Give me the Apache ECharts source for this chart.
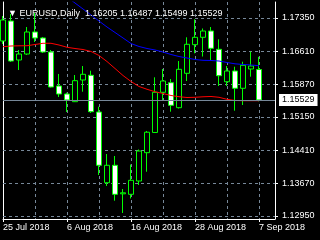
<!DOCTYPE html>
<html><head><meta charset="utf-8">
<script src="https://cdn.jsdelivr.net/npm/echarts@6/dist/echarts.min.js"></script>
<style>html,body{margin:0;padding:0;background:#000;}#c{width:320px;height:240px;}</style>
</head><body><div id="c"></div>
<script>
const symbolName = 'EURUSD,Daily';
const categories = ['25 Jul 2018','26 Jul 2018','27 Jul 2018','30 Jul 2018','31 Jul 2018','1 Aug 2018','2 Aug 2018','3 Aug 2018','6 Aug 2018','7 Aug 2018','8 Aug 2018','9 Aug 2018','10 Aug 2018','13 Aug 2018','14 Aug 2018','15 Aug 2018','16 Aug 2018','17 Aug 2018','20 Aug 2018','21 Aug 2018','22 Aug 2018','23 Aug 2018','24 Aug 2018','27 Aug 2018','28 Aug 2018','29 Aug 2018','30 Aug 2018','31 Aug 2018','3 Sep 2018','4 Sep 2018','5 Sep 2018','6 Sep 2018','7 Sep 2018'];
const open  = [1.16839,1.17283,1.16417,1.16550,1.17039,1.16906,1.16594,1.15839,1.15661,1.15490,1.15972,1.16077,1.15261,1.13690,1.14077,1.13443,1.13432,1.13728,1.14357,1.14806,1.15699,1.15912,1.15357,1.16121,1.16757,1.16921,1.17061,1.16654,1.15934,1.16172,1.15788,1.16217,1.16205];
const close = [1.17306,1.16394,1.16550,1.17039,1.16906,1.16594,1.15817,1.15661,1.15529,1.15957,1.16099,1.15268,1.14077,1.14077,1.13432,1.13466,1.13743,1.14394,1.14812,1.15699,1.15950,1.15410,1.16210,1.16766,1.16921,1.17061,1.16677,1.16068,1.16172,1.15788,1.16299,1.16283,1.15529];
const low   = [1.16772,1.16372,1.16194,1.16528,1.16817,1.16572,1.15806,1.15594,1.15261,1.15483,1.15712,1.15239,1.13861,1.13617,1.13290,1.13017,1.13339,1.13639,1.13934,1.14800,1.15528,1.15268,1.15339,1.15950,1.16566,1.16494,1.16417,1.15839,1.15839,1.15290,1.15417,1.16046,1.15499];
const high  = [1.17394,1.17439,1.16639,1.17150,1.17461,1.16928,1.16639,1.16106,1.15690,1.16083,1.16283,1.16179,1.15379,1.14328,1.14283,1.13550,1.14094,1.14428,1.14839,1.16032,1.16217,1.15994,1.16394,1.16921,1.17321,1.17117,1.17150,1.16877,1.16283,1.16268,1.16379,1.16601,1.16487];
const maFast = [1.16712,1.16728,1.16732,1.16734,1.16761,1.16788,1.16788,1.16750,1.16699,1.16672,1.16650,1.16606,1.16517,1.16383,1.16228,1.16072,1.15939,1.15828,1.15766,1.15712,1.15672,1.15628,1.15601,1.15583,1.15588,1.15599,1.15606,1.15588,1.15543,1.15517,1.15512,1.15512,1.15512];
const maSlow = [null,null,null,null,null,null,null,null,1.17817,1.17683,1.17550,1.17417,1.17283,1.17150,1.17028,1.16906,1.16783,1.16717,1.16672,1.16639,1.16594,1.16539,1.16494,1.16461,1.16428,1.16410,1.16406,1.16394,1.16361,1.16332,1.16317,1.16306,1.16290];
const yTicks = [1.12950,1.13670,1.14410,1.15150,1.15870,1.16610,1.17350];
const lastOHLC = [1.16205,1.16487,1.15499,1.15529];
const lastPrice = 1.15529;
const yMin = 1.128833, yMax = 1.177056;

const FONT = 'Liberation Sans';
const xCats = categories.concat(['', '']);
const candleData = open.map((o, i) => [o, close[i], low[i], high[i]]);
const chart = echarts.init(document.getElementById('c'), null, {renderer: 'canvas'});
const labelIdx = (i) => i % 8 === 0 && i < categories.length;
chart.setOption({
  backgroundColor: '#000000',
  animation: false,
  title: {
    text: '▼ ' + symbolName + '  ' + lastOHLC.map(v => v.toFixed(5)).join(' '),
    left: 3, top: 4,
    textStyle: {color: '#ffffff', fontSize: 9, fontWeight: 'normal', fontFamily: FONT}
  },
  grid: {left: 3, top: 2, width: 272, height: 217, show: false},
  xAxis: {
    type: 'category', data: xCats, boundaryGap: false,
    axisLine: {onZero: false, lineStyle: {color: '#ffffff', width: 1}},
    axisTick: {show: true, interval: labelIdx, length: 3, lineStyle: {color: '#ffffff'}},
    axisLabel: {interval: labelIdx, align: 'left', color: '#ffffff', fontSize: 9, fontFamily: FONT, margin: 4},
    splitLine: {show: true, interval: (i) => i % 4 === 0 && i > 0 && i < categories.length,
      lineStyle: {color: '#778899', type: [3, 3], width: 1}}
  },
  yAxis: [{
    type: 'value', position: 'right', min: yMin, max: yMax,
    axisLine: {show: true, onZero: false, lineStyle: {color: '#ffffff'}},
    axisTick: {show: true, customValues: yTicks, length: 3, lineStyle: {color: '#ffffff'}},
    axisLabel: {customValues: yTicks, formatter: v => Number(v).toFixed(5), color: '#ffffff', fontSize: 9, fontFamily: FONT, margin: 7},
    splitLine: {show: false}
  }, {
    type: 'value', position: 'left', min: yMin, max: yMax,
    axisLine: {show: true, onZero: false, lineStyle: {color: '#ffffff'}},
    axisTick: {show: false}, axisLabel: {show: false}, splitLine: {show: false}
  }],
  series: [{
    type: 'line', data: maSlow, symbol: 'none', smooth: false, connectNulls: false, z: 3,
    lineStyle: {color: '#0000ff', width: 1},
    markLine: {
      silent: true, symbol: ['none', 'none'], animation: false, z: 1, precision: 6,
      data: yTicks.map(v => ({yAxis: v})),
      lineStyle: {color: '#778899', type: [3, 3], width: 1},
      label: {show: false}
    }
  }, {
    type: 'candlestick', data: candleData, barWidth: 5, z: 2,
    itemStyle: {color: '#000000', color0: '#ffffff', borderColor: '#00ff00', borderColor0: '#00ff00', borderColorDoji: '#00ff00', borderWidth: 1}
  }, {
    type: 'line', data: maFast, symbol: 'none', smooth: false, z: 3,
    lineStyle: {color: '#ff0000', width: 1},
    markLine: {
      silent: true, symbol: ['none', 'none'], animation: false, z: 4, precision: 6,
      data: [{yAxis: lastPrice}],
      lineStyle: {color: '#778899', type: 'solid', width: 1},
      label: {show: true, position: 'end', distance: 4, formatter: lastPrice.toFixed(5),
        backgroundColor: '#ffffff', color: '#000000', fontSize: 9, fontFamily: FONT, padding: [2, 3, 1, 3]}
    }
  }]
});
</script></body></html>
